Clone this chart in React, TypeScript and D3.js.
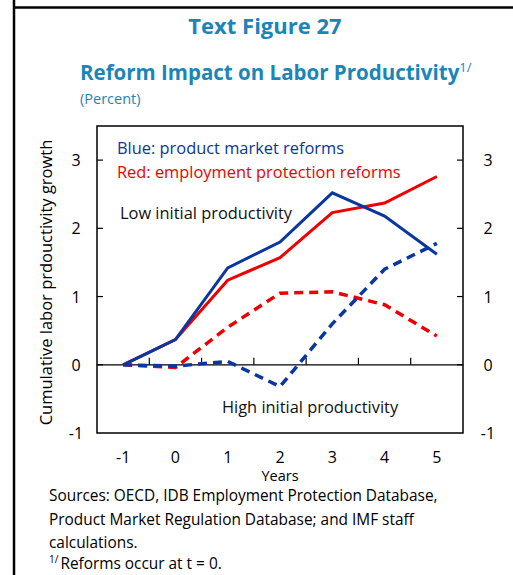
import { useEffect, useRef } from "react";
import * as d3 from "d3";

const years = [-1, 0, 1, 2, 3, 4, 5];
const blueLow = [0, 0.37, 1.42, 1.8, 2.52, 2.18, 1.62];
const redLow = [0, 0.37, 1.24, 1.57, 2.23, 2.37, 2.76];
const redHigh = [0, -0.04, 0.55, 1.05, 1.07, 0.88, 0.42];
const blueHigh = [0, -0.02, 0.05, -0.32, 0.6, 1.4, 1.78];
const yTicks = [-1, 0, 1, 2, 3];
const sources = [
  "Sources: OECD, IDB Employment Protection Database,",
  "Product Market Regulation Database; and IMF staff",
  "calculations.",
];

const W = 513;
const H = 575;
const FONT = "'Open Sans', 'Noto Sans', sans-serif";
const TEAL = "#1b85b8";
const BLUE = "#0a36a0";
const RED = "#ee0000";

export default function App() {
  const ref = useRef<SVGSVGElement>(null);

  useEffect(() => {
    if (!ref.current) return;
    const svg = d3.select(ref.current);
    svg.selectAll("*").remove();

    const left = 97, right = 463, top = 126, bottom = 433;
    const x = d3.scaleLinear().domain([-1.5, 5.5]).range([left, right]);
    const y = d3.scaleLinear().domain([-1, 3.5]).range([bottom, top]);

    // page border
    svg.append("line").attr("x1", 14).attr("x2", 14).attr("y1", 0).attr("y2", H)
      .attr("stroke", "#000").attr("stroke-width", 2.5);
    svg.append("line").attr("x1", 14).attr("x2", W).attr("y1", 7.5).attr("y2", 7.5)
      .attr("stroke", "#000").attr("stroke-width", 2.5);

    // titles
    svg.append("text").attr("x", 265).attr("y", 34).attr("text-anchor", "middle")
      .attr("font-family", FONT).attr("font-weight", 700).attr("font-size", 22)
      .attr("fill", TEAL).text("Text Figure 27");
    const sub = svg.append("text").attr("x", 80).attr("y", 80)
      .attr("font-family", FONT).attr("font-weight", 700).attr("font-size", 20.5)
      .attr("fill", TEAL);
    sub.append("tspan").text("Reform Impact on Labor Productivity");
    sub.append("tspan").attr("font-size", 13).attr("font-weight", 400).attr("dy", -8).text("1/");
    svg.append("text").attr("x", 80).attr("y", 104)
      .attr("font-family", FONT).attr("font-size", 14.5).attr("fill", TEAL).text("(Percent)");

    // frame
    svg.append("rect").attr("x", left).attr("y", top).attr("width", right - left).attr("height", bottom - top)
      .attr("fill", "none").attr("stroke", "#000").attr("stroke-width", 1.5);

    // y ticks and labels
    yTicks.forEach((t) => {
      if (t > -1) {
        svg.append("line").attr("x1", left).attr("x2", left + 6).attr("y1", y(t)).attr("y2", y(t))
          .attr("stroke", "#000").attr("stroke-width", 1.2);
        svg.append("line").attr("x1", right - 6).attr("x2", right).attr("y1", y(t)).attr("y2", y(t))
          .attr("stroke", "#000").attr("stroke-width", 1.2);
      }
      svg.append("text").attr("x", 76).attr("y", y(t) + 6).attr("text-anchor", "middle")
        .attr("font-family", FONT).attr("font-size", 16).attr("fill", "#000").text(t);
      svg.append("text").attr("x", 488).attr("y", y(t) + 6).attr("text-anchor", "middle")
        .attr("font-family", FONT).attr("font-size", 16).attr("fill", "#000").text(t);
    });

    // zero line with ticks between years
    svg.append("line").attr("x1", left).attr("x2", right).attr("y1", y(0)).attr("y2", y(0))
      .attr("stroke", "#000").attr("stroke-width", 1.2);
    d3.range(-0.5, 5, 1).forEach((t) => {
      svg.append("line").attr("x1", x(t)).attr("x2", x(t)).attr("y1", y(0)).attr("y2", y(0) - 7)
        .attr("stroke", "#000").attr("stroke-width", 1.2);
    });

    // x labels
    years.forEach((t) => {
      svg.append("text").attr("x", x(t)).attr("y", 463).attr("text-anchor", "middle")
        .attr("font-family", FONT).attr("font-size", 16).attr("fill", "#000").text(t);
    });
    svg.append("text").attr("x", 280).attr("y", 481).attr("text-anchor", "middle")
      .attr("font-family", FONT).attr("font-size", 14.5).attr("fill", "#000").text("Years");

    // y axis label
    svg.append("text").attr("transform", `translate(52,${(top + bottom) / 2 + 3}) rotate(-90)`)
      .attr("text-anchor", "middle").attr("font-family", FONT).attr("font-size", 16.5)
      .attr("fill", "#000").text("Cumulative labor prdouctivity growth");

    // lines
    const line = d3.line<number>().x((_, i) => x(years[i])).y((d) => y(d));
    const series = [
      { data: redHigh, color: RED, dash: "9,6" },
      { data: blueHigh, color: BLUE, dash: "9,6" },
      { data: redLow, color: RED, dash: null },
      { data: blueLow, color: BLUE, dash: null },
    ];
    series.forEach((s) => {
      const p = svg.append("path").attr("d", line(s.data)).attr("fill", "none")
        .attr("stroke", s.color).attr("stroke-width", s.dash ? 3.5 : 3)
        .attr("stroke-linejoin", "miter");
      if (s.dash) p.attr("stroke-dasharray", s.dash);
    });

    // annotations
    const ann = [
      { t: "Blue: product market reforms", x: 117, y: 154, c: BLUE },
      { t: "Red: employment protection reforms", x: 117, y: 178, c: RED },
      { t: "Low initial productivity", x: 120, y: 219, c: "#111" },
      { t: "High initial productivity", x: 222, y: 413, c: "#111" },
    ];
    ann.forEach((a) => {
      svg.append("text").attr("x", a.x).attr("y", a.y).attr("font-family", FONT)
        .attr("font-size", 16.4).attr("fill", a.c).text(a.t);
    });

    // sources
    sources.forEach((s, i) => {
      svg.append("text").attr("x", 49).attr("y", 501 + i * 23.5).attr("font-family", FONT)
        .attr("font-size", 15.4).attr("fill", "#000").text(s);
    });
    const fn = svg.append("text").attr("x", 49).attr("y", 569).attr("font-family", FONT)
      .attr("font-size", 15.4).attr("fill", "#000");
    fn.append("tspan").attr("font-size", 10).attr("dy", -6).text("1/");
    fn.append("tspan").attr("dy", 6).attr("dx", 2).text("Reforms occur at t = 0.");
  }, []);

  return (
    <svg ref={ref} width={W} height={H}
      style={{ position: "absolute", left: 0, top: 0, background: "#fff" }} />
  );
}
